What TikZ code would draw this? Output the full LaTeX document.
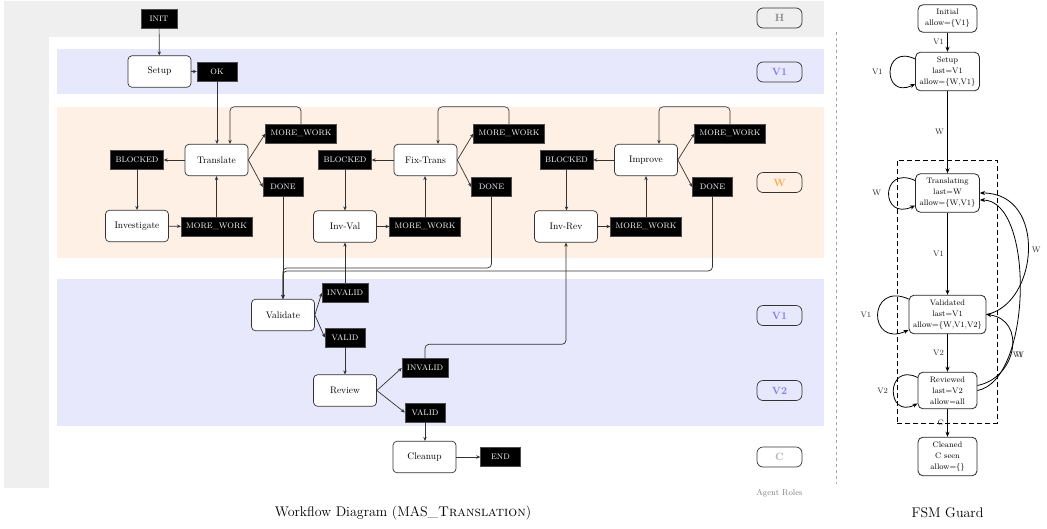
\documentclass[tikz,border=0pt]{standalone}
\usepackage{fontspec}
\usetikzlibrary{arrows.meta,calc}
\definecolor{hgray}{HTML}{EFEFEF}
\definecolor{vband}{HTML}{E8E8FC}
\definecolor{wband}{HTML}{FEF0E4}
\definecolor{vtext}{HTML}{8080F0}
\definecolor{wtext}{HTML}{FFAA55}
\begin{document}
\begin{tikzpicture}[x=1pt,y=-1pt,
  wfnode/.style={draw=black!80, fill=white, rounded corners=4pt, minimum width=63pt, minimum height=31.5pt, inner xsep=7pt, font=\fontsize{9.5}{11}\selectfont, line width=0.7pt},
  tag/.style={fill=black, draw=black!70, text=white, font=\fontsize{8}{9}\selectfont, minimum width=40pt, minimum height=19pt, inner xsep=5pt, inner ysep=2pt},
  wa/.style={draw=black!80, line width=0.7pt, -{Stealth[length=4pt,width=3.5pt]}},
  badge/.style={draw=black!80, rounded corners=6pt, minimum width=45pt, minimum height=20pt, font=\fontsize{10.5}{12}\selectfont\bfseries, line width=0.7pt},
  fsm/.style={draw=black!85, fill=white, rounded corners=5pt, align=center, font=\fontsize{8}{11}\selectfont, inner xsep=4pt, inner ysep=4.5pt, minimum width=59pt, line width=0.8pt},
  fa/.style={draw=black, line width=0.8pt, -{Stealth[length=5pt,width=4pt,inset=1.5pt]}},
  fl/.style={font=\fontsize{8}{9}\selectfont, text=black!85},
  grpbox/.style={draw=black, dash pattern=on 5pt off 3pt, line width=0.7pt, minimum width=100pt, minimum height=263pt, inner sep=0pt}
]
\useasboundingbox (0,0) rectangle (1047,528);
% backgrounds
\fill[hgray] (4,1) rectangle (824,488);
\fill[white] (49,37) rectangle (824,488);
\fill[vband] (57,49) rectangle (824,94);
\fill[wband] (57,107) rectangle (824,258);
\fill[vband] (57,279) rectangle (824,426);
\draw[dash pattern=on 3pt off 3pt, black!35, line width=0.6pt] (836.5,32) -- (836.5,484);

% role badges
\node[badge, text=black!45] (bh) at (779.5,18) {H};
\node[badge, text=vtext] (bv1) at (779.5,72) {V1};
\node[badge, text=wtext] (bw) at (779.5,182.5) {W};
\node[badge, text=vtext] (bv1b) at (779.5,315.5) {V1};
\node[badge, text=vtext] (bv2) at (779.5,390.5) {V2};
\node[badge, text=black!30] (bc) at (779.5,457) {C};
\node[font=\fontsize{8.5}{10}\selectfont, text=black!50] (ar) at (779.5,493) {Agent Roles};

% workflow nodes
\node[tag, minimum width=36pt] (init) at (159,18.5) {INIT};
\node[wfnode] (setup) at (159.5,71.5) {Setup};
\node[tag] (ok) at (217,71.5) {OK};

\node[wfnode] (tr) at (216.5,160) {Translate};
\node[tag] (mwt1) at (301,133.5) {MORE\_WORK};
\node[tag] (done1) at (283,187) {DONE};
\node[tag] (bl1) at (137,160) {BLOCKED};
\node[wfnode] (inv) at (137,226) {Investigate};
\node[tag] (mwb1) at (216.5,226.5) {MORE\_WORK};

\node[wfnode] (ft) at (425.5,160) {Fix-Trans};
\node[tag] (mwt2) at (509,133.5) {MORE\_WORK};
\node[tag] (done2) at (491.5,187) {DONE};
\node[tag] (bl2) at (345,160) {BLOCKED};
\node[wfnode] (iv) at (345,226.5) {Inv-Val};
\node[tag] (mwb2) at (425,226.5) {MORE\_WORK};

\node[wfnode] (im) at (646,160) {Improve};
\node[tag] (mwt3) at (730,133.5) {MORE\_WORK};
\node[tag] (done3) at (712.5,187) {DONE};
\node[tag] (bl3) at (566.5,160) {BLOCKED};
\node[wfnode] (ir) at (566,226.5) {Inv-Rev};
\node[tag] (mwb3) at (646,226.5) {MORE\_WORK};

\node[wfnode] (va) at (283,315) {Validate};
\node[tag] (inv1) at (345,293) {INVALID};
\node[tag] (val1) at (345,337.5) {VALID};
\node[wfnode] (re) at (345,390.5) {Review};
\node[tag] (inv2) at (425,368) {INVALID};
\node[tag] (val2) at (425,412.5) {VALID};
\node[wfnode] (cl) at (424.5,457) {Cleanup};
\node[tag] (fin) at (500.5,457) {END};

\coordinate (l1) at ($(tr.north)+(13.5,0)$);
\coordinate (l2) at ($(ft.north)+(12.5,0)$);
\coordinate (l3) at ($(im.north)+(13,0)$);
\coordinate (j2) at ($(va.north)+(0,-31)$);
\coordinate (j3) at ($(va.north)+(0,-28)$);

% workflow edges
\draw[wa] (init) -- (setup);
\draw[wa] (setup) -- (ok);
\draw[wa] (ok) -- (ok |- tr.north);

\draw[wa] (tr) -- (bl1);
\draw[wa] (tr.east) -- (mwt1.west);
\draw[wa] (tr.east) -- (done1.west);
\draw[wa, rounded corners=4pt] (mwt1.north) -- ++(0,-17) -| (l1);
\draw[wa] (bl1) -- (inv);
\draw[wa] (inv) -- (mwb1);
\draw[wa] (mwb1) -- (tr);
\draw[wa] (done1) -- (va);

\draw[wa] (ft) -- (bl2);
\draw[wa] (ft.east) -- (mwt2.west);
\draw[wa] (ft.east) -- (done2.west);
\draw[wa, rounded corners=4pt] (mwt2.north) -- ++(0,-17) -| (l2);
\draw[wa] (bl2) -- (iv);
\draw[wa] (iv) -- (mwb2);
\draw[wa] (mwb2) -- (mwb2 |- ft.south);
\draw[wa, rounded corners=4pt] (done2.south) |- (j2) -- (va.north);

\draw[wa] (im) -- (bl3);
\draw[wa] (im.east) -- (mwt3.west);
\draw[wa] (im.east) -- (done3.west);
\draw[wa, rounded corners=4pt] (mwt3.north) -- ++(0,-17) -| (l3);
\draw[wa] (bl3.south) -- (bl3.south |- ir.north);
\draw[wa] (ir) -- (mwb3);
\draw[wa] (mwb3) -- (im);
\draw[wa, rounded corners=4pt] (done3.south) |- (j3) -- (va.north);

\draw[wa] (va.east) -- (inv1.west);
\draw[wa] (va.east) -- (val1.west);
\draw[wa] (inv1) -- (iv);
\draw[wa] (val1) -- (re);
\draw[wa] (re.east) -- (inv2.west);
\draw[wa] (re.east) -- (val2.west);
\draw[wa, rounded corners=4pt] (inv2.north) -- ++(0,-14) -| (ir.south);
\draw[wa] (val2.south) -- (val2.south |- cl.north);
\draw[wa] (cl) -- (fin);

% FSM guard
\node[grpbox] (grp) at (947,291.5) {};
\node[fsm] (fi) at (947.5,18.5) {Initial\\allow=\{V1\}};
\node[fsm] (fs) at (947.5,71.5) {Setup\\last=V1\\allow=\{W,V1\}};
\node[fsm] (ftr) at (947.5,193) {Translating\\last=W\\allow=\{W,V1\}};
\node[fsm] (fv) at (947.5,314.5) {Validated\\last=V1\\allow=\{W,V1,V2\}};
\node[fsm] (fr) at (947.5,390.5) {Reviewed\\last=V2\\allow=all};
\node[fsm] (fc) at (947.5,456.5) {Cleaned\\C seen\\allow=\{\}};

\draw[fa] (fi) -- node[left, fl] {V1} (fs);
\draw[fa] (fs) -- node[left, fl] {W} (ftr);
\draw[fa] (ftr) -- node[left, fl] {V1} (fv);
\draw[fa] (fv) -- node[left, fl] {V2} (fr);
\draw[fa] (fr) -- node[left, fl] {C} (fc);

\draw[fa] ([yshift=12.5pt]fs.west) .. controls +(-33,-16) and +(-33,16) .. node[left=4pt, fl] {V1} ([yshift=-12.5pt]fs.west);
\draw[fa] ([yshift=12.5pt]ftr.west) .. controls +(-35,-16) and +(-35,16) .. node[left=4pt, fl] {W} ([yshift=-12.5pt]ftr.west);
\draw[fa] ([yshift=15.5pt]fv.west) .. controls +(-41,-18) and +(-41,18) .. node[left=3pt, fl] {V1} ([yshift=-15.5pt]fv.west);
\draw[fa] ([yshift=13pt]fr.west) .. controls +(-32,-16) and +(-32,16) .. node[left=2pt, fl] {V2} ([yshift=-13pt]fr.west);

\draw[fa] (fv.east) .. controls +(52,-10) and +(68,0) .. node[pos=0.5, right, fl] {W} (ftr.east);
\draw[fa] ([yshift=5pt]fr.east) .. controls +(40,-8) and +(40,5) .. node[pos=0.5, right, fl, xshift=-3pt, yshift=-6pt] {V1} (fv.east);
\draw[fa] (fr.east) .. controls +(55,-10) and +(55,0) .. node[pos=0.25, right, fl, xshift=3pt, yshift=2pt] {W} ([yshift=-7pt]ftr.east);

% captions
\node[font=\fontsize{14}{16}\selectfont] (cap1) at (403,513) {Workflow Diagram (MAS\_\textsc{Translation})};
\node[font=\fontsize{14}{16}\selectfont] (cap2) at (947.5,513) {FSM Guard};
\end{tikzpicture}
\end{document}
